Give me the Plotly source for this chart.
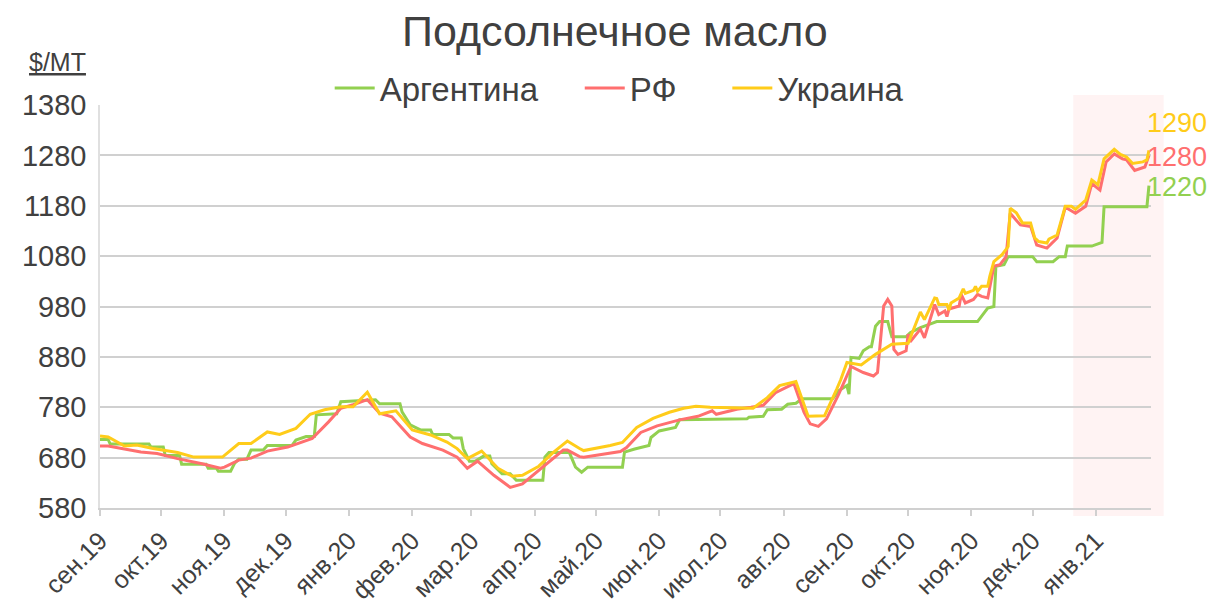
import plotly.graph_objects as go

# ---------------- data ----------------
arg_dates = ["2019-09-01","2019-09-05","2019-09-06","2019-09-25","2019-09-26","2019-10-02","2019-10-03","2019-10-10","2019-10-11","2019-10-23",
             "2019-10-24","2019-10-28","2019-10-29","2019-11-04","2019-11-06","2019-11-08","2019-11-12","2019-11-14","2019-11-20","2019-11-22",
             "2019-12-04","2019-12-06","2019-12-11","2019-12-15","2019-12-16","2019-12-26","2019-12-28","2020-01-10","2020-01-14","2020-01-16",
             "2020-01-26","2020-01-27","2020-01-31","2020-02-05","2020-02-10","2020-02-11","2020-02-19","2020-02-21","2020-02-25","2020-02-26",
             "2020-02-29","2020-03-03","2020-03-07","2020-03-10","2020-03-11","2020-03-16","2020-03-20","2020-03-23","2020-04-05","2020-04-06",
             "2020-04-08","2020-04-18","2020-04-21","2020-04-24","2020-04-27","2020-05-14","2020-05-15","2020-05-20","2020-05-27","2020-05-28",
             "2020-06-01","2020-06-09","2020-06-11","2020-07-14","2020-07-15","2020-07-22","2020-07-24","2020-07-31","2020-08-03","2020-08-07",
             "2020-08-10","2020-08-25","2020-08-28","2020-09-01","2020-09-02","2020-09-03","2020-09-07","2020-09-09","2020-09-12","2020-09-13",
             "2020-09-15","2020-09-17","2020-09-21","2020-09-23","2020-09-30","2020-10-02","2020-10-07","2020-10-11","2020-10-15","2020-11-04",
             "2020-11-09","2020-11-12","2020-11-13","2020-11-17","2020-11-19","2020-12-01","2020-12-03","2020-12-11","2020-12-14","2020-12-17",
             "2020-12-18","2020-12-30","2021-01-04","2021-01-05","2021-01-26","2021-01-27"]
arg_values = [716,716,707,707,701,701,684,684,667,667,
              659,659,653,653,669,677,677,695,695,704,
              704,715,722,722,765,767,791,795,795,787,
              787,771,745,735,735,726,726,719,719,698,
              673,673,683,683,668,648,648,635,635,681,
              690,690,661,651,661,661,691,697,704,720,
              733,740,755,757,760,762,775,776,786,788,
              797,797,813,823,806,879,877,892,900,900,
              941,950,950,920,920,928,938,944,950,950,
              977,980,1060,1063,1079,1079,1069,1069,1079,1079,
              1100,1100,1107,1178,1178,1220]

rf_dates = ["2019-09-01","2019-09-05","2019-09-13","2019-09-21","2019-09-29","2019-10-09","2019-10-21","2019-10-30","2019-11-01","2019-11-08",
            "2019-11-14","2019-11-22","2019-12-02","2019-12-14","2019-12-22","2019-12-28","2020-01-03","2020-01-10","2020-01-16","2020-01-22",
            "2020-01-31","2020-02-06","2020-02-16","2020-02-23","2020-02-28","2020-03-04","2020-03-12","2020-03-20","2020-03-26","2020-04-05",
            "2020-04-15","2020-04-17","2020-04-23","2020-04-25","2020-05-13","2020-05-16","2020-05-23","2020-05-31","2020-06-11","2020-06-20",
            "2020-06-27","2020-06-29","2020-07-09","2020-07-16","2020-07-22","2020-07-28","2020-08-06","2020-08-11","2020-08-14","2020-08-18",
            "2020-08-22","2020-08-28","2020-09-03","2020-09-09","2020-09-14","2020-09-16","2020-09-19","2020-09-21","2020-09-23","2020-09-24",
            "2020-09-26","2020-09-30","2020-10-01","2020-10-02","2020-10-07","2020-10-09","2020-10-14","2020-10-16","2020-10-19","2020-10-20",
            "2020-10-21","2020-10-26","2020-10-27","2020-10-29","2020-11-02","2020-11-04","2020-11-06","2020-11-09","2020-11-12","2020-11-15",
            "2020-11-18","2020-11-20","2020-11-25","2020-11-30","2020-12-03","2020-12-08","2020-12-13","2020-12-17","2020-12-22","2020-12-27",
            "2020-12-30","2021-01-03","2021-01-06","2021-01-10","2021-01-14","2021-01-16","2021-01-20","2021-01-25","2021-01-27"]
rf_values = [703,703,697,691,688,678,668,659,661,675,
             679,693,701,718,751,778,785,795,768,761,
             721,708,695,681,659,673,645,621,628,661,
             695,695,682,681,692,700,730,743,755,762,
             773,766,776,780,784,809,827,770,747,742,
             757,806,861,849,842,849,981,994,981,895,
             885,892,925,910,935,918,984,964,971,960,
             975,981,1004,987,994,1004,1000,997,1060,1063,
             1079,1165,1142,1139,1102,1096,1116,1177,1165,1179,
             1224,1211,1267,1283,1273,1271,1250,1257,1280]

ukr_dates = ["2019-09-01","2019-09-05","2019-09-13","2019-09-19","2019-09-27","2019-10-09","2019-10-17","2019-10-31","2019-11-08","2019-11-14",
             "2019-11-22","2019-11-28","2019-12-06","2019-12-13","2019-12-20","2019-12-28","2020-01-03","2020-01-10","2020-01-16","2020-01-24",
             "2020-02-01","2020-02-10","2020-02-18","2020-02-23","2020-02-28","2020-03-06","2020-03-14","2020-03-21","2020-03-26","2020-04-03",
             "2020-04-10","2020-04-17","2020-04-23","2020-04-25","2020-05-08","2020-05-14","2020-05-21","2020-05-29","2020-06-06","2020-06-13",
             "2020-06-19","2020-06-26","2020-07-17","2020-07-24","2020-07-30","2020-08-07","2020-08-13","2020-08-21","2020-08-27","2020-08-29",
             "2020-09-01","2020-09-08","2020-09-15","2020-09-23","2020-10-01","2020-10-07","2020-10-09","2020-10-14","2020-10-15","2020-10-16",
             "2020-10-20","2020-10-21","2020-10-22","2020-10-26","2020-10-28","2020-10-29","2020-11-02","2020-11-03","2020-11-04","2020-11-06",
             "2020-11-09","2020-11-10","2020-11-12","2020-11-16","2020-11-19","2020-11-20","2020-11-23","2020-11-25","2020-11-26","2020-11-30",
             "2020-12-02","2020-12-04","2020-12-08","2020-12-09","2020-12-13","2020-12-17","2020-12-20","2020-12-22","2020-12-27","2020-12-30",
             "2021-01-02","2021-01-05","2021-01-10","2021-01-13","2021-01-16","2021-01-19","2021-01-24","2021-01-26","2021-01-27"]
ukr_values = [723,721,703,705,698,690,681,681,708,708,
              731,726,738,766,775,781,781,810,767,773,
              735,725,711,698,678,693,659,643,645,663,
              690,713,698,694,704,710,740,758,770,778,
              782,780,778,799,823,831,762,763,816,835,
              869,864,885,905,907,969,954,997,996,984,
              984,973,987,997,1015,1006,1012,1020,1010,1020,
              1020,1040,1069,1083,1099,1175,1166,1152,1146,1146,
              1116,1109,1106,1114,1122,1179,1179,1173,1191,1231,
              1222,1273,1292,1282,1277,1264,1267,1271,1290]

series_names = ["Аргентина", "РФ", "Украина"]
series_colors = ["#92D050", "#FF6F6F", "#FFCC1A"]
end_labels = ["1220", "1280", "1290"]
end_label_levels = [1217, 1277, 1344]

month_ticks = ["2019-09-01","2019-10-01","2019-11-01","2019-12-01","2020-01-01","2020-02-01","2020-03-01","2020-04-01",
               "2020-05-01","2020-06-01","2020-07-01","2020-08-01","2020-09-01","2020-10-01","2020-11-01","2020-12-01","2021-01-01"]
month_labels = ["сен.19","окт.19","ноя.19","дек.19","янв.20","фев.20","мар.20","апр.20",
                "май.20","июн.20","июл.20","авг.20","сен.20","окт.20","ноя.20","дек.20","янв.21"]
y_ticks = [580, 680, 780, 880, 980, 1080, 1180, 1280, 1380]

# ---------------- figure ----------------
FONT = "Liberation Sans, Arial, sans-serif"
TXT = "#404040"
NB = "\u00a0"
fig = go.Figure()

all_data = [(arg_dates, arg_values), (rf_dates, rf_values), (ukr_dates, ukr_values)]
legend_names = [series_names[0] + NB * 4, series_names[1] + NB * 5, series_names[2]]
for (d, v), name, col in zip(all_data, legend_names, series_colors):
    fig.add_trace(go.Scatter(x=d, y=v, mode="lines", name=name,
                             line=dict(color=col, width=3)))

for (d, v), lab, lvl, col in zip(all_data, end_labels, end_label_levels, series_colors):
    fig.add_annotation(x=d[-1], y=lvl, xref="x", yref="y", text=lab, showarrow=False,
                       xanchor="left", yanchor="middle", xshift=-4,
                       font=dict(family=FONT, size=27, color=col))

# highlighted recent period
fig.add_shape(type="rect", xref="paper", yref="paper", x0=0.926, x1=1.012, y0=-0.02, y1=1.025,
              fillcolor="rgba(255,120,120,0.09)", line=dict(width=0), layer="below")

fig.add_annotation(x=-0.011, y=1.107, xref="paper", yref="paper", text="<u>$/MT</u>",
                   showarrow=False, xanchor="right", yanchor="middle",
                   font=dict(family=FONT, size=25, color=TXT))

fig.update_layout(
    width=1209, height=595,
    margin=dict(l=92, r=66, t=97, b=95, autoexpand=False),
    paper_bgcolor="white", plot_bgcolor="white",
    title=dict(text="Подсолнечное масло", x=0.502, xref="container", xanchor="center",
               y=0.9613, yref="container", yanchor="middle",
               font=dict(family=FONT, size=43, color=TXT)),
    legend=dict(orientation="h", x=0.494, xanchor="center", y=1.042, yanchor="middle",
                font=dict(family=FONT, size=33, color=TXT), itemwidth=40,
                bgcolor="rgba(0,0,0,0)"),
    showlegend=True,
)
fig.update_xaxes(type="date", range=["2019-09-01", "2021-01-28"], automargin=False,
                 tickvals=month_ticks, ticktext=month_labels, tickangle=-45,
                 tickfont=dict(family=FONT, size=25, color=TXT),
                 showgrid=False, showline=True, linecolor="#D0D0D0", linewidth=2,
                 ticks="outside", ticklen=6, tickcolor="#D0D0D0", tickwidth=1.5)
fig.update_yaxes(range=[580, 1380], tickvals=y_ticks, automargin=False,
                 tickfont=dict(family=FONT, size=29, color=TXT),
                 showgrid=True, gridcolor="#D0D0D0", gridwidth=1.5,
                 showline=True, linecolor="#E0E0E0", linewidth=1.5,
                 zeroline=False, ticks="", ticklabelstandoff=6)

fig.write_html("out.html")
